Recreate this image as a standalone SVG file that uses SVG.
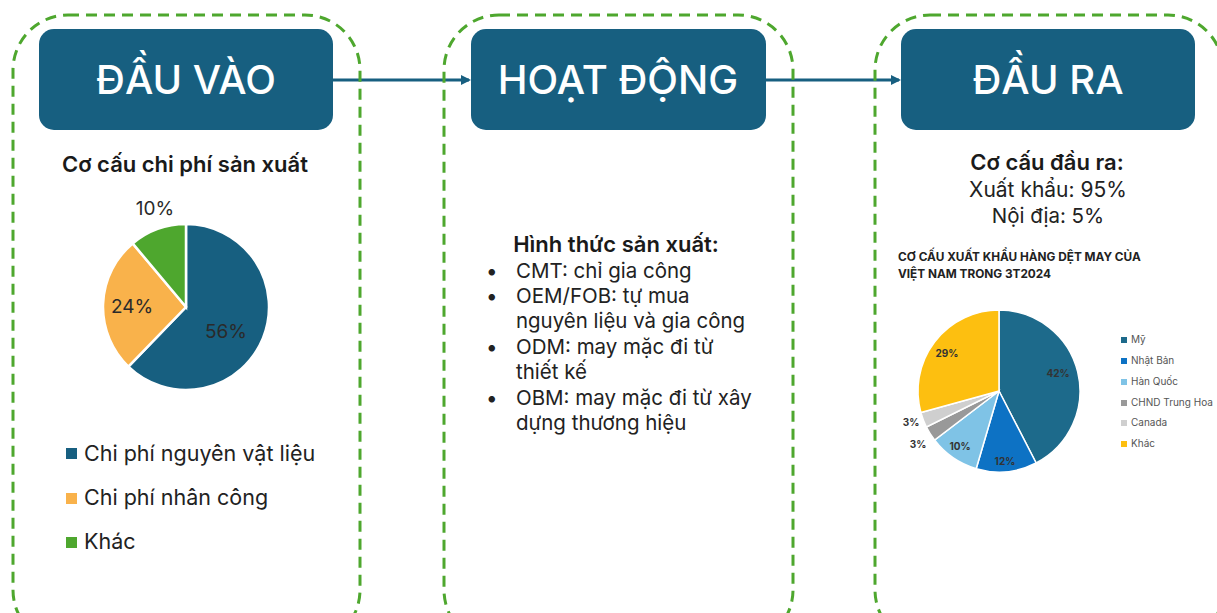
<svg xmlns="http://www.w3.org/2000/svg" width="1217" height="613" viewBox="0 0 1217 613">
<defs>
<style>
.frame{fill:none;stroke:#4ea72e;stroke-width:3;stroke-dasharray:11 7}
.head{fill:#175f80}
.htxt{fill:#fff;font-family:Inter,"Noto Sans",sans-serif;font-size:40px;font-weight:500;text-anchor:middle}
.conn{stroke:#175f80;stroke-width:3;fill:none}
.t{font-family:Inter,"Noto Sans",sans-serif;fill:#222}
.b{font-weight:600;font-size:22px;text-anchor:middle;fill:#1a1a1a}
.lbl{font-family:Inter,"Noto Sans",sans-serif;font-size:19px;fill:#2a2a2a;text-anchor:middle}
.sm{font-family:Inter,"Noto Sans",sans-serif;font-size:10px;font-weight:700;fill:#333;text-anchor:middle}
.leg{font-family:Inter,"Noto Sans",sans-serif;font-size:10px;fill:#555}
.sep{stroke:#fff;stroke-width:2.5}
.sep2{stroke:#fff;stroke-width:1.5}
</style>
<marker id="arr" markerWidth="10" markerHeight="10" refX="8" refY="5" orient="auto" markerUnits="userSpaceOnUse">
<path d="M0,0 L10,5 L0,10 Z" fill="#175f80"/>
</marker>
</defs>
<rect width="1217" height="613" fill="#fff"/>

<g id="connectors">
<line class="conn" x1="333" y1="80" x2="469" y2="80" marker-end="url(#arr)"/>
<line class="conn" x1="766" y1="80" x2="899" y2="80" marker-end="url(#arr)"/>
</g>

<g id="input">
<rect class="frame" x="13" y="15" width="347" height="630" rx="55"/>
<rect class="head" x="39" y="29" width="294" height="101" rx="15"/>
<text class="htxt" x="186" y="94">ĐẦU VÀO</text>
<text class="t b" x="185" y="172">Cơ cấu chi phí sản xuất</text>
<path d="M186,307 L186,224 A83,83 0 1 1 128.34,366.70 Z" fill="#175f80" class="sep"/>
<path d="M186,307 L128.34,366.70 A83,83 0 0 1 132.65,243.42 Z" fill="#f9b24b" class="sep"/>
<path d="M186,307 L132.65,243.42 A83,83 0 0 1 186,224 Z" fill="#4ea72e" class="sep"/>
<text class="lbl" x="155" y="215">10%</text>
<text class="lbl" x="132" y="313">24%</text>
<text class="lbl" x="226" y="338">56%</text>
<g class="t" font-size="21.5" fill="#333">
<rect x="66" y="448" width="11" height="11" fill="#175f80"/>
<text x="84" y="461">Chi phí nguyên vật liệu</text>
<rect x="66" y="493" width="11" height="11" fill="#f9b24b"/>
<text x="84" y="505">Chi phí nhân công</text>
<rect x="66" y="537" width="11" height="11" fill="#4ea72e"/>
<text x="84" y="549">Khác</text>
</g>
</g>

<g id="activity">
<rect class="frame" x="444" y="15" width="349" height="630" rx="55"/>
<rect class="head" x="471" y="29" width="295" height="101" rx="15"/>
<text class="htxt" x="618" y="94">HOẠT ĐỘNG</text>
<text class="t b" x="616" y="252">Hình thức sản xuất:</text>
<g class="t" font-size="20.5" fill="#333">
<text x="486" y="278">•</text><text x="516" y="278">CMT: chỉ gia công</text>
<text x="486" y="303">•</text><text x="516" y="303">OEM/FOB: tự mua</text>
<text x="516" y="328" textLength="229" lengthAdjust="spacingAndGlyphs">nguyên liệu và gia công</text>
<text x="486" y="354">•</text><text x="516" y="354">ODM: may mặc đi từ</text>
<text x="516" y="379">thiết kế</text>
<text x="486" y="405">•</text><text x="516" y="405">OBM: may mặc đi từ xây</text>
<text x="516" y="430">dựng thương hiệu</text>
</g>
</g>

<g id="output">
<rect class="frame" x="875" y="15" width="348" height="630" rx="55"/>
<rect class="head" x="901" y="29" width="294" height="101" rx="15"/>
<text class="htxt" x="1048" y="94">ĐẦU RA</text>
<text class="t b" x="1047" y="170">Cơ cấu đầu ra:</text>
<text class="t" x="1048" y="197" font-size="21" text-anchor="middle" fill="#333">Xuất khẩu: 95%</text>
<text class="t" x="1048" y="223" font-size="20.5" text-anchor="middle" fill="#333">Nội địa: 5%</text>
<text class="t" x="898" y="261" font-size="11.8" font-weight="700" fill="#333">CƠ CẤU XUẤT KHẨU HÀNG DỆT MAY CỦA</text>
<text class="t" x="898" y="278" font-size="11.8" font-weight="700" fill="#333">VIỆT NAM TRONG 3T2024</text>
<path d="M999,391 L999,310 A81,81 0 0 1 1036.11,462.99 Z" fill="#1d6a8b" class="sep2"/>
<path d="M999,391 L1036.11,462.99 A81,81 0 0 1 976.18,468.72 Z" fill="#0d72c4" class="sep2"/>
<path d="M999,391 L976.18,468.72 A81,81 0 0 1 934.56,440.07 Z" fill="#7fc3e6" class="sep2"/>
<path d="M999,391 L934.56,440.07 A81,81 0 0 1 926.42,426.97 Z" fill="#999999" class="sep2"/>
<path d="M999,391 L926.42,426.97 A81,81 0 0 1 920.92,412.58 Z" fill="#cfcfcf" class="sep2"/>
<path d="M999,391 L920.92,412.58 A81,81 0 0 1 999,310 Z" fill="#fdbf10" class="sep2"/>
<text class="sm" x="1058" y="377">42%</text>
<text class="sm" x="1005" y="465">12%</text>
<text class="sm" x="960" y="450">10%</text>
<text class="sm" x="911" y="426">3%</text>
<text class="sm" x="918" y="448">3%</text>
<text class="sm" x="947" y="357">29%</text>
<rect x="1121" y="337" width="6" height="6" fill="#1d6a8b"/><text class="leg" x="1131" y="343">Mỹ</text>
<rect x="1121" y="358" width="6" height="6" fill="#0d72c4"/><text class="leg" x="1131" y="364">Nhật Bản</text>
<rect x="1121" y="379" width="6" height="6" fill="#7fc3e6"/><text class="leg" x="1131" y="385">Hàn Quốc</text>
<rect x="1121" y="400" width="6" height="6" fill="#999999"/><text class="leg" x="1131" y="406">CHND Trung Hoa</text>
<rect x="1121" y="420" width="6" height="6" fill="#cfcfcf"/><text class="leg" x="1131" y="426">Canada</text>
<rect x="1121" y="441" width="6" height="6" fill="#fdbf10"/><text class="leg" x="1131" y="447">Khác</text>
</g>
</svg>
